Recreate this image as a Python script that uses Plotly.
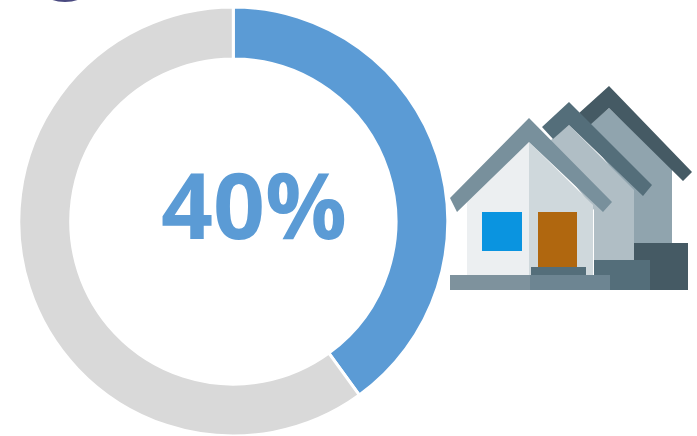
import plotly.graph_objects as go

W, H = 697, 436

# Donut data
segments = ["Share", "Remainder"]
shares = [40, 60]
segment_colors = ["#5B9BD5", "#D9D9D9"]
center_label = f"{shares[0]}%"

# Donut placement in pixels
left, right, top, bottom = 18.8, 447.8, 7, 436
hole = 0.758


def poly(points, color):
    path = "M " + " L ".join(f"{x},{y}" for x, y in points) + " Z"
    return dict(type="path", path=path, xref="x", yref="y", layer="above",
                fillcolor=color, line=dict(width=0))


# House icon drawn back to front
house = [
    # rear house
    poly([(583, 130), (609, 108), (672, 168), (672, 243), (634, 243), (634, 200)], "#90A4AE"),
    poly([(609, 86), (692, 172), (683, 181), (609, 108), (590, 125), (578, 114)], "#455A64"),
    poly([(634, 243), (688, 243), (688, 290), (634, 290)], "#455A64"),
    # middle house
    poly([(545, 145), (569, 125), (634, 190), (634, 260), (594, 260), (594, 210)], "#B0BEC5"),
    poly([(569, 102), (652, 185), (643, 196), (569, 125), (553, 139), (542, 127)], "#546E7A"),
    poly([(594, 260), (650, 260), (650, 290), (594, 290)], "#546E7A"),
    # front house
    poly([(467, 187), (529, 142), (529, 275), (467, 275)], "#ECEFF1"),
    poly([(529, 142), (593, 205), (593, 275), (529, 275)], "#CFD8DC"),
    poly([(529, 118), (612, 202), (603, 212), (529, 142), (457, 212), (450, 198)], "#78909C"),
    poly([(482, 212), (522, 212), (522, 251), (482, 251)], "#0A94E0"),
    poly([(538, 212), (577, 212), (577, 267), (538, 267)], "#B0670F"),
    poly([(531, 267), (586, 267), (586, 275), (531, 275)], "#546E7A"),
    poly([(450, 275), (530, 275), (530, 290), (450, 290)], "#7E929D"),
    poly([(530, 275), (610, 275), (610, 290), (530, 290)], "#6D8592"),
]

# Sliver of a dark badge clipped by the top edge
badge = dict(type="circle", xref="x", yref="y", x0=46, x1=84, y0=-14, y1=2,
             fillcolor="#4A4A80", line=dict(width=0), layer="above")

fig = go.Figure(
    go.Pie(
        labels=segments,
        values=shares,
        hole=hole,
        sort=False,
        direction="clockwise",
        rotation=0,
        textinfo="none",
        hoverinfo="skip",
        showlegend=False,
        marker=dict(colors=segment_colors, line=dict(color="white", width=3)),
        domain=dict(x=[left / W, right / W], y=[1 - bottom / H, 1 - top / H]),
    )
)

fig.update_layout(
    width=W,
    height=H,
    margin=dict(l=0, r=0, t=0, b=0),
    paper_bgcolor="white",
    plot_bgcolor="rgba(0,0,0,0)",
    xaxis=dict(range=[0, W], visible=False, fixedrange=True),
    yaxis=dict(range=[H, 0], visible=False, fixedrange=True),
    shapes=house + [badge],
    annotations=[
        dict(
            text=f"<b>{center_label}</b>",
            x=253.5,
            y=204,
            xref="x",
            yref="y",
            showarrow=False,
            font=dict(family="Open Sans, sans-serif", size=91, color=segment_colors[0]),
        )
    ],
)

fig.write_html("out.html", config=dict(displayModeBar=False))
